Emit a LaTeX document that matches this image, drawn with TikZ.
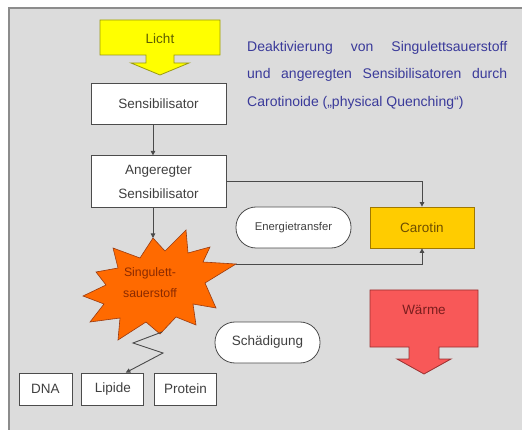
\documentclass[tikz,border=0pt]{standalone}
\usepackage{fontspec}
\setmainfont{Liberation Sans}
\usetikzlibrary{arrows.meta,positioning}
\definecolor{PanelGray}{HTML}{DCDCDC}
\definecolor{FrameGray}{HTML}{8C8C8C}
\definecolor{LineGray}{HTML}{4A4A4A}
\definecolor{BoxText}{HTML}{404040}
\definecolor{NoteBlue}{HTML}{3A3A9A}
\definecolor{Yellow}{HTML}{FFFF00}
\definecolor{Olive}{HTML}{9A9A10}
\definecolor{OliveText}{HTML}{5E5E00}
\definecolor{Gold}{HTML}{FFCC00}
\definecolor{GoldEdge}{HTML}{A07800}
\definecolor{GoldText}{HTML}{6E4E00}
\definecolor{Orange}{HTML}{FF6A00}
\definecolor{Rust}{HTML}{9A3A10}
\definecolor{RustText}{HTML}{8A2A00}
\definecolor{SoftRed}{HTML}{F85858}
\definecolor{DarkRed}{HTML}{9A3030}
\definecolor{DarkRedText}{HTML}{7A1E1E}
\tikzset{
  box/.style={draw=gray!60!black, fill=white, line width=0.8pt, text=BoxText, inner sep=0pt, align=center, font=\fontsize{13.5}{24}\selectfont},
  roundbox/.style={box, rounded corners=20pt},
  carobox/.style={box, draw=GoldEdge, fill=Gold, text=GoldText},
  arr/.style={-{Triangle[length=4.5pt,width=4.5pt]}, line width=0.9pt, draw=LineGray},
  lichtshape/.style={draw=Olive, fill=Yellow, line width=0.8pt},
  waermeshape/.style={draw=DarkRed, fill=SoftRed, line width=0.8pt},
  starshape/.style={draw=Rust, fill=Orange, line width=0.6pt},
  note/.style={text=NoteBlue, text width=260pt, align=justify, inner sep=0pt, font=\fontsize{14}{27.5}\selectfont}
}
\begin{document}
\begin{tikzpicture}[x=1pt,y=-1pt,node distance=31pt]
\useasboundingbox (0,0) rectangle (522,430);
% panel
\fill[white] (0,0) rectangle (522,430);
\fill[PanelGray] (9,8) rectangle (522,430);
\draw[FrameGray,line width=1.5pt] (9,430) -- (9,8) -- (522,8);
% light and heat arrows
\draw[lichtshape] (100,20) -- (220,20) -- (220,55) -- (174,55) -- (174,63) -- (189,63) -- (160,75)
  -- (131,63) -- (146,63) -- (146,55) -- (100,55) -- cycle;
\node[text=OliveText, font=\fontsize{13.5}{16}\selectfont] (licht) at (160,39) {Licht};
\draw[waermeshape] (370,290) -- (478,290) -- (478,347) -- (439,347) -- (439,359) -- (451,359) -- (424,374)
  -- (397,359) -- (409,359) -- (409,347) -- (370,347) -- cycle;
\node[text=DarkRedText, font=\fontsize{13.5}{16}\selectfont] (waerme) at (424,310) {Wärme};
% boxes
\node[box, minimum width=135pt, minimum height=41pt] (sens) at (158.5,103.5) {Sensibilisator};
\node[box, minimum width=135pt, minimum height=52pt, below=of sens] (ang) {Angeregter\\Sensibilisator};
\node[carobox, minimum width=104pt, minimum height=41pt] (carotin) at (422,227.5) {Carotin};
\node[roundbox, minimum width=115pt, minimum height=41pt, font=\fontsize{11.3}{14}\selectfont] (energ) at (293.5,227.5) {Energietransfer};
\node[roundbox, minimum width=105pt, minimum height=41pt] (schaed) at (267.5,342.5) {Schädigung};
\node[box, minimum width=53pt, minimum height=32pt] (dna) at (45.5,389) {DNA};
\node[box, minimum width=62pt, minimum height=32pt, right=9pt of dna] (lip) {Lipide};
\node[box, minimum width=62pt, minimum height=32pt, right=10pt of lip] (prot) {Protein};
% singlet oxygen
\draw[starshape] (153,238) -- (165,251) -- (186,230) -- (188,253) -- (210,247) -- (203,262) -- (236,264)
  -- (205,283) -- (216,308) -- (193,304) -- (196,325) -- (176,317) -- (160,334) -- (146,322)
  -- (118,340) -- (120,318) -- (90,322) -- (104,304) -- (83,296) -- (106,285) -- (96,272)
  -- (118,268) -- (113,248) -- (140,258) -- cycle;
\node[text=RustText, align=center, font=\fontsize{12.3}{21}\selectfont] (sing) at (150,283) {Singulett-\\sauerstoff};
\coordinate (singtop) at (153,238);
\coordinate (singright) at (236,264);
\coordinate (zig) at (162,332);
% connectors
\draw[arr] (sens.south -| singtop) -- (ang.north -| singtop);
\draw[arr] (ang.south -| singtop) -- (singtop);
\draw[arr] (ang.east) -| (carotin.north);
\draw[arr] (singright) -| (carotin.south);
\draw[arr] (zig) -- (133,343) -- (163,353) -- ([xshift=13pt]lip.north);
% note
\node[note, anchor=north west] (text) at (247,41) {Deaktivierung von Singulettsauerstoff\linebreak
  und angeregten Sensibilisatoren durch\linebreak Carotinoide („physical Quenching“)};
\end{tikzpicture}
\end{document}
